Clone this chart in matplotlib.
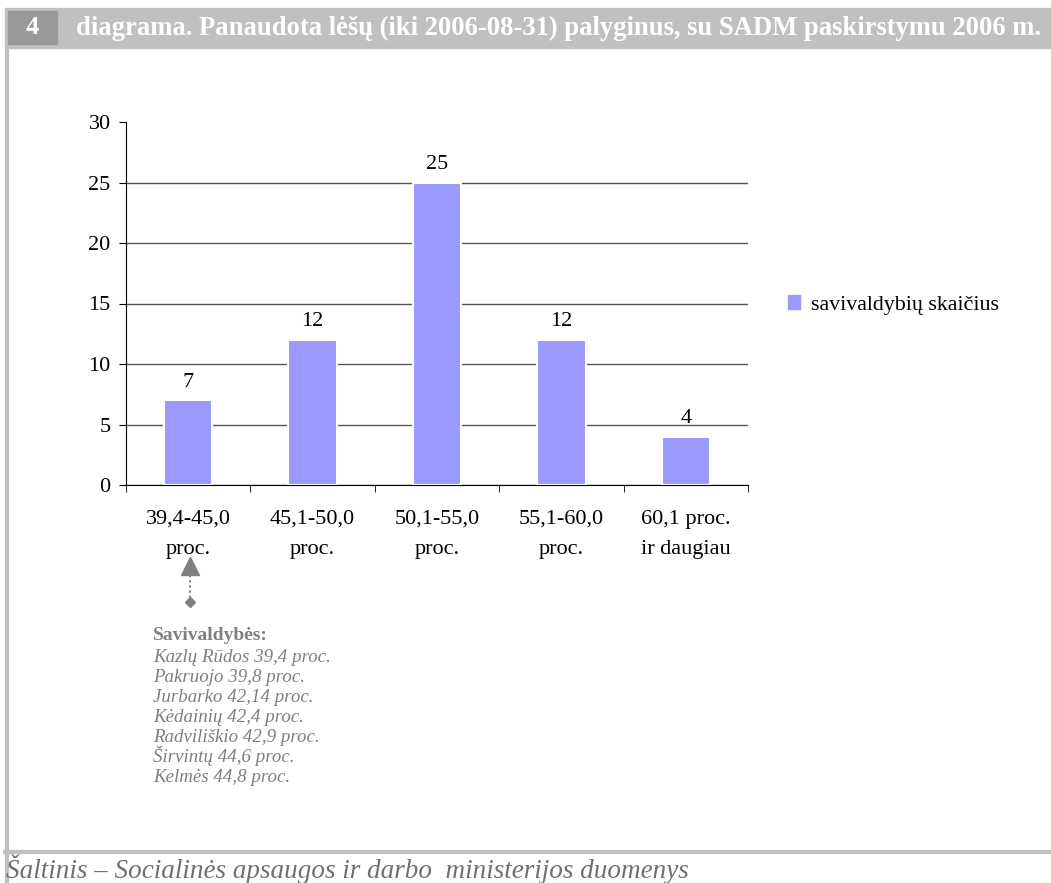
import matplotlib
matplotlib.use("Agg")
import matplotlib.pyplot as plt
from matplotlib.patches import Rectangle
from matplotlib.lines import Line2D

categories = ["39,4-45,0\nproc.", "45,1-50,0\nproc.", "50,1-55,0\nproc.", "55,1-60,0\nproc.", "60,1 proc.\nir daugiau"]
values = [7, 12, 25, 12, 4]
series_name = "savivaldybių skaičius"
yticks = [0, 5, 10, 15, 20, 25, 30]
title_num = "4"
title = "diagrama. Panaudota lėšų (iki 2006-08-31) palyginus, su SADM paskirstymu 2006 m."
note_head = "Savivaldybės:"
note_lines = ["Kazlų Rūdos 39,4 proc.", "Pakruojo 39,8 proc.", "Jurbarko 42,14 proc.",
              "Kėdainių 42,4 proc.", "Radviliškio 42,9 proc.", "Širvintų 44,6 proc.",
              "Kelmės 44,8 proc."]
source = "Šaltinis – Socialinės apsaugos ir darbo  ministerijos duomenys"

plt.rcParams['font.family'] = ['Liberation Serif', 'DejaVu Serif']

W, H = 1051, 883
fig = plt.figure(figsize=(W/100, H/100), dpi=100)

def px(x, y):
    return x / W, 1 - y / H

gray = "#c0c0c0"
# header bar
fig.patches.append(Rectangle(px(5, 48), 1 - 5/W, 40/H, transform=fig.transFigure, color=gray, zorder=0))
fig.patches.append(Rectangle(px(8, 44), 49/W, 33/H, transform=fig.transFigure, color="#999999", zorder=1))
fig.text(*px(32, 28), title_num, color="white", fontsize=19, fontweight="bold", ha="center", va="center")
fig.text(*px(1041, 28), title, color="white", fontsize=19.2, fontweight="bold", ha="right", va="center")
# left border and bottom rule
fig.lines.append(Line2D([6.5/W, 6.5/W], [0, 1 - 48/H], transform=fig.transFigure, color=gray, lw=3))
fig.lines.append(Line2D([5/W, 1], [1 - 852/H, 1 - 852/H], transform=fig.transFigure, color=gray, lw=3))
fig.text(*px(6, 878), source, color="#707070", fontsize=19.5, fontstyle="italic", ha="left", va="baseline")

# axes
x0, x1, ytop, ybot = 126, 748, 122, 485
ax = fig.add_axes([x0/W, 1 - ybot/H, (x1 - x0)/W, (ybot - ytop)/H])
pos = list(range(len(values)))
bars = ax.bar(pos, values, width=0.39, color="#9999ff", edgecolor="white", linewidth=1.5, zorder=3,
              label=series_name)
ax.set_xlim(-0.5, len(values) - 0.5)
ax.set_ylim(0, 30)
ax.set_yticks(yticks)
ax.set_yticklabels([str(t) for t in yticks], fontsize=16)
ax.set_xticks(pos)
ax.set_xticklabels(categories, fontsize=16, linespacing=1.8)
ax.set_xticks([p - 0.5 for p in pos] + [len(values) - 0.5], minor=True)
ax.tick_params(axis="x", which="major", length=0, pad=18)
ax.tick_params(axis="x", which="minor", length=5, direction="out", color="black")
ax.tick_params(axis="y", length=5, direction="out", pad=6)
for s in ["top", "right"]:
    ax.spines[s].set_visible(False)
ax.spines["left"].set_color("black")
ax.spines["bottom"].set_color("black")
ax.yaxis.grid(True, color="#555555", lw=1)
ax.set_axisbelow(True)
gl = ax.get_ygridlines()
gl[-1].set_visible(False)
for b, v in zip(bars, values):
    ax.annotate(str(v), (b.get_x() + b.get_width()/2, v), xytext=(0, 6), textcoords="offset points",
                ha="center", va="bottom", fontsize=16)

leg = fig.legend(handles=[Rectangle((0, 0), 1, 1, color="#9999ff")], labels=[series_name],
                 loc="center left", bbox_to_anchor=px(768, 305), frameon=False, fontsize=15.8,
                 handlelength=0.55, handleheight=0.55, handletextpad=0.5)

# annotation arrow
ax_ann_x = 190
fig.lines.append(Line2D([ax_ann_x/W]*2, [1 - 575/H, 1 - 600/H], transform=fig.transFigure,
                        color="#7f7f7f", lw=1.5, ls=(0, (1, 1.5))))
fig.lines.append(Line2D([ax_ann_x/W], [1 - 602/H], transform=fig.transFigure, color="#7f7f7f",
                        marker="D", markersize=5, ls="none"))
fig.lines.append(Line2D([ax_ann_x/W], [1 - 566/H], transform=fig.transFigure, color="#7f7f7f",
                        marker="^", markersize=13, ls="none"))
fig.text(*px(153, 640), note_head, color="#7f7f7f", fontsize=14, fontweight="bold", va="baseline")
for i, line in enumerate(note_lines):
    fig.text(*px(153, 662 + i*20), line, color="#7f7f7f", fontsize=13.6, fontstyle="italic",
             va="baseline")

fig.savefig("out.png", dpi=100)
